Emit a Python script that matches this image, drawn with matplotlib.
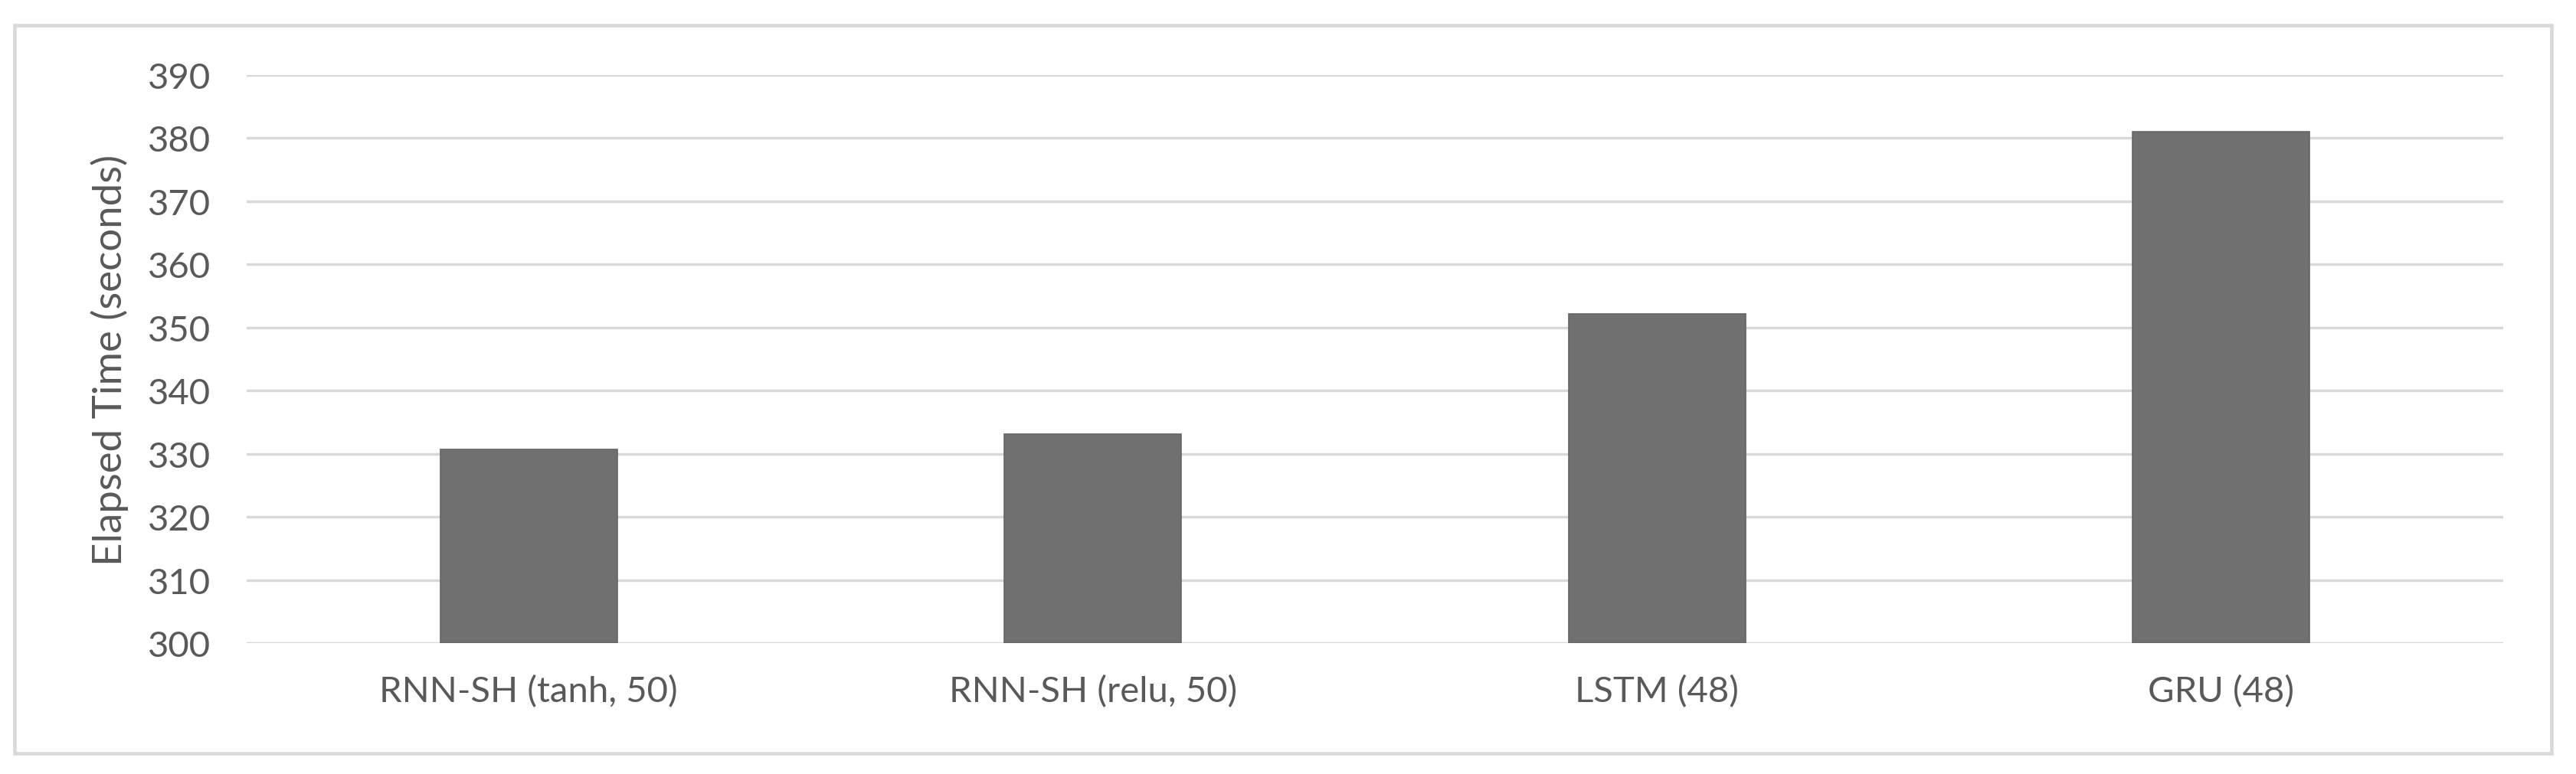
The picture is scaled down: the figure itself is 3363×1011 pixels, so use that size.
import matplotlib
matplotlib.use('Agg')
import matplotlib.pyplot as plt
from matplotlib.patches import Rectangle
import numpy as np

plt.rcParams['font.family'] = ['Lato', 'DejaVu Sans']

# data
models = ['RNN-SH (tanh, 50)', 'RNN-SH (relu, 50)', 'LSTM (48)', 'GRU (48)']
elapsed = [330.7, 333.1, 352.1, 381.0]
yticks = [300, 310, 320, 330, 340, 350, 360, 370, 380, 390]

text_col = '#595959'
grid_col = '#d9d9d9'
bar_col = '#707070'

W, H = 3363, 1012
fig = plt.figure(figsize=(W / 100, H / 100), dpi=100)

# outer chart frame (Excel style)
fig.patches.append(Rectangle((19 / W, 1 - 985 / H), (3331 - 19) / W, (985 - 34) / H,
                             transform=fig.transFigure, fill=False,
                             edgecolor=grid_col, linewidth=3.3))

ax = fig.add_axes([322 / W, 1 - 841 / H, (3268 - 322) / W, (841 - 99) / H])

x = np.arange(len(models))
ax.bar(x, [v - 300 for v in elapsed], bottom=300, width=0.313,
       color=bar_col, edgecolor='#666666', linewidth=1.2, zorder=3)

ax.set_xlim(-0.5, len(models) - 0.5)
ax.set_ylim(300, 390)
ax.set_yticks(yticks)
ax.set_xticks(x)
ax.set_xticklabels(models)
ax.grid(axis='y', color=grid_col, linewidth=2.5, zorder=0)
ax.set_axisbelow(True)

for s in ax.spines.values():
    s.set_visible(False)

ax.tick_params(axis='both', length=0, labelsize=34, colors=text_col)
ax.tick_params(axis='y', pad=34)
ax.tick_params(axis='x', pad=30)
ax.set_ylabel('Elapsed Time (seconds)', fontsize=38, color=text_col)
ax.yaxis.set_label_coords(143 / W, 1 - 470 / H, transform=fig.transFigure)
ax.yaxis.label.set_verticalalignment('center')

fig.savefig('out.png', dpi=100, facecolor='white')
